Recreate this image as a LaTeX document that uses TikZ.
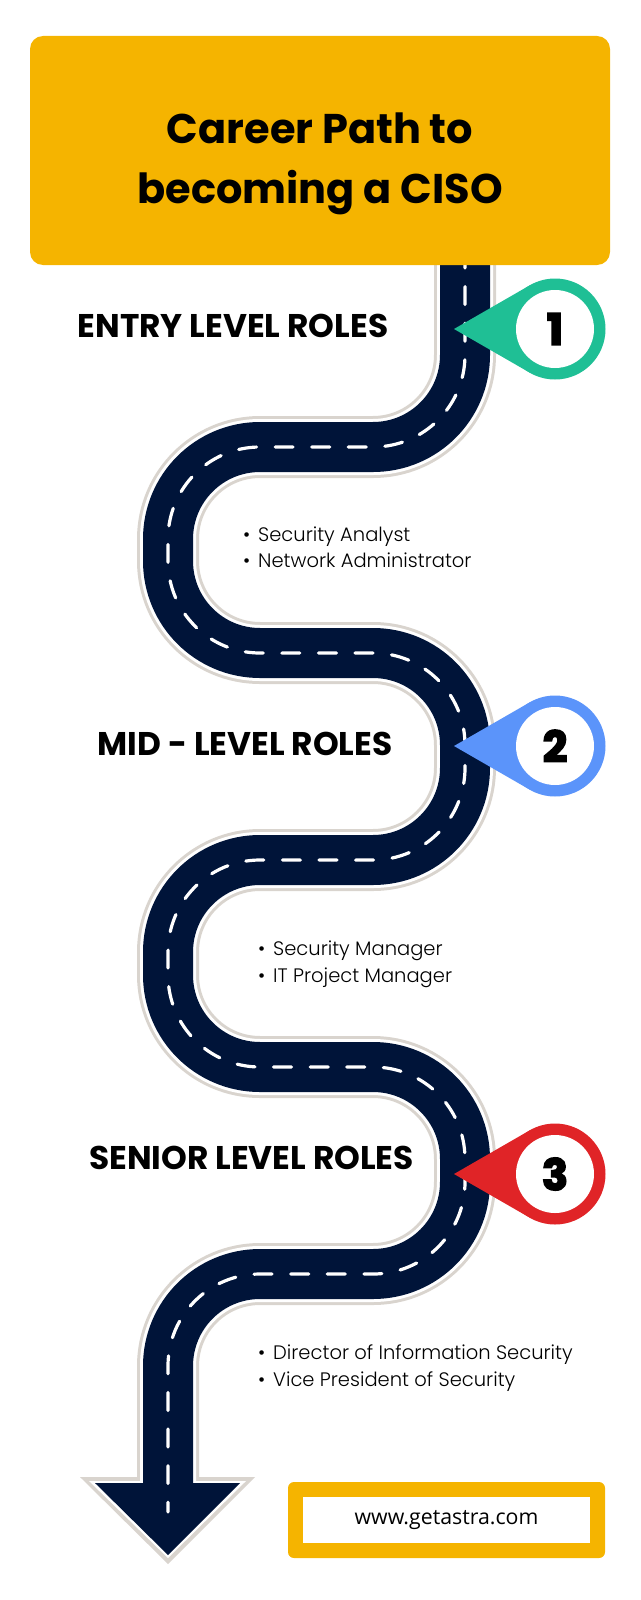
\documentclass[tikz,border=0pt]{standalone}
\usepackage{fontspec}
\usetikzlibrary{calc}
\setmainfont{Poppins}
\newfontfamily\itemfont{Poppins Light}
\newfontfamily\urlfont{Open Sans}
\newfontfamily\digitfont[FakeBold=4]{Poppins Bold}
\definecolor{amber}{HTML}{F5B400}
\definecolor{roadnavy}{HTML}{001439}
\definecolor{roadedge}{HTML}{D9D4CE}
\definecolor{pingreen}{HTML}{1FBF95}
\definecolor{pinblue}{HTML}{5B94FA}
\definecolor{pinred}{HTML}{E02427}
\tikzset{
  heading/.style={font=\bfseries\fontsize{32.8}{32.8}\selectfont,inner sep=0pt},
  roleitem/.style={font=\itemfont\fontsize{19.5}{19.5}\selectfont,anchor=base west,inner sep=0pt},
  roadline/.style={rounded corners=92pt,line width=#1}
}
\newcommand{\roadpath}{(465,250)--(465,447)--(168,447)--(168,653)--(465,653)--(465,860)--(168,860)--(168,1067)--(465,1067)--(465,1274)--(168,1274)--(168,1512)}
\newcommand{\bulleted}[1]{\makebox[15pt][l]{\textbullet}#1}
\begin{document}
\begin{tikzpicture}[x=1pt,y=-1pt]
  \useasboundingbox (0,0) rectangle (640,1600);
  \coordinate (gl) at (80,1477);\coordinate (gr) at (255,1477);\coordinate (gt) at (168,1564);
  \coordinate (wl) at (89,1481);\coordinate (wr) at (246,1481);\coordinate (wt) at (168,1558);
  \coordinate (nl) at (95,1483);\coordinate (nr) at (240,1483);\coordinate (nt) at (168,1555);
  % road, one layer over the other
  \draw[roadedge,roadline=62pt] \roadpath;
  \fill[roadedge] (gl) -- (gr) -- (gt) -- cycle;
  \draw[white,roadline=56pt] \roadpath;
  \fill[white] (wl) -- (wr) -- (wt) -- cycle;
  \draw[roadnavy,roadline=50pt] \roadpath;
  \fill[roadnavy] (nl) -- (nr) -- (nt) -- cycle;
  \draw[white,roadline=3.2pt,line cap=round,dash pattern=on 18pt off 18.6pt] \roadpath;
  % title
  \node[fill=amber,rounded corners=13pt,minimum width=580pt,minimum height=229pt,inner sep=0pt] (title) at (320,150.5) {};
  \node[font=\bfseries\fontsize{41.5}{41.5}\selectfont,inner sep=0pt] (line1) at (320,128) {Career Path to};
  \node[font=\bfseries\fontsize{41.5}{41.5}\selectfont,inner sep=0pt] (line2) at (320,193) {becoming a CISO};
  % pins
  \foreach \y/\col/\num in {329/pingreen/1,746/pinblue/2,1174/pinred/3}{
    \coordinate (tip\num) at (454,\y);
    \node[circle,fill=\col,minimum size=101pt,inner sep=0pt] (pin\num) at (555,\y) {};
    \fill[\col] (tip\num) -- ($(pin\num)+(-25.2pt,43.7pt)$) -- ($(pin\num)+(-25.2pt,-43.7pt)$) -- cycle;
    \node[circle,fill=white,minimum size=78pt,inner sep=0pt,font=\digitfont\fontsize{43}{43}\selectfont] (num\num) at (555,\y) {\num};
  }
  % headings
  \node[heading] (entry) at (233,326) {ENTRY LEVEL ROLES};
  \node[heading] (mid) at (245,744) {MID - LEVEL ROLES};
  \node[heading] (senior) at (251.5,1158) {SENIOR LEVEL ROLES};
  % roles
  \node[roleitem] (analyst) at (243,541) {\bulleted{Security Analyst}};
  \node[roleitem] (admin) at (243,567) {\bulleted{Network Administrator}};
  \node[roleitem] (manager) at (258,955) {\bulleted{Security Manager}};
  \node[roleitem] (project) at (258,982) {\bulleted{IT Project Manager}};
  \node[roleitem] (director) at (258,1359) {\bulleted{Director of Information Security}};
  \node[roleitem] (vice) at (258,1386) {\bulleted{Vice President of Security}};
  % link box
  \node[fill=amber,rounded corners=6pt,minimum width=317pt,minimum height=76pt,inner sep=0pt] (box) at (446.5,1520) {};
  \node[fill=white,minimum width=287pt,minimum height=46pt,inner sep=0pt,font=\urlfont\fontsize{21.3}{21.3}\selectfont] (site) at (box) {www.getastra.com};
\end{tikzpicture}
\end{document}
